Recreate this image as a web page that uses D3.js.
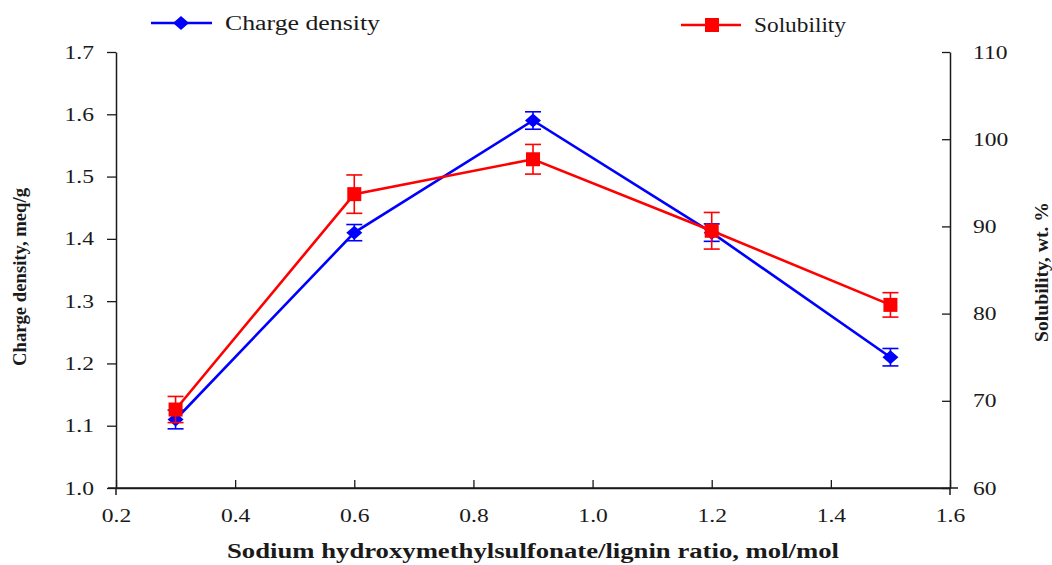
<!DOCTYPE html>
<html><head><meta charset="utf-8">
<script src="https://cdn.jsdelivr.net/npm/d3@7"></script>
<style>body{margin:0;background:#fff}svg{display:block}</style>
</head><body>
<script>
const ratios = [0.3, 0.6, 0.9, 1.2, 1.5];
const chargeDensity = [1.11, 1.41, 1.59, 1.41, 1.21];
const chargeErr = [0.015, 0.013, 0.014, 0.014, 0.014];
const solubility = [69.0, 93.7, 97.7, 89.5, 81.0];
const solubilityErr = [1.5, 2.2, 1.7, 2.1, 1.4];
const xTicks = [0.2, 0.4, 0.6, 0.8, 1.0, 1.2, 1.4, 1.6];
const yLeftTicks = [1.0, 1.1, 1.2, 1.3, 1.4, 1.5, 1.6, 1.7];
const yRightTicks = [60, 70, 80, 90, 100, 110];

const W = 1052, H = 565;
const m = {l:116, r:W-950, t:52, b:H-488};
const svg = d3.select("body").append("svg").attr("width", W).attr("height", H);
const font = "'Liberation Serif', 'Times New Roman', serif";
const ink = "#1a1a1a";

const x = d3.scaleLinear().domain([0.2, 1.6]).range([m.l, W - m.r]);
const yL = d3.scaleLinear().domain([1.0, 1.7]).range([H - m.b, m.t]);
const yR = d3.scaleLinear().domain([60, 110]).range([H - m.b, m.t]);

function stretch(sel, k) {
  sel.each(function() {
    const w = this.getComputedTextLength();
    d3.select(this).attr("textLength", w * k).attr("lengthAdjust", "spacingAndGlyphs");
  });
}

// Axes
const xAxis = d3.axisBottom(x).tickValues(xTicks).tickFormat(d3.format(".1f")).tickSizeInner(-8).tickSizeOuter(0).tickPadding(21);
const gx = svg.append("g").attr("transform", `translate(0,${H - m.b})`).call(xAxis);
const yAxisL = d3.axisLeft(yL).tickValues(yLeftTicks).tickFormat(d3.format(".1f")).tickSizeInner(9).tickSizeOuter(0).tickPadding(13);
const gyl = svg.append("g").attr("transform", `translate(${m.l},0)`).call(yAxisL);
const yAxisR = d3.axisRight(yR).tickValues(yRightTicks).tickSizeInner(-8).tickSizeOuter(0).tickPadding(23);
const gyr = svg.append("g").attr("transform", `translate(${W - m.r},0)`).call(yAxisR);

[gx, gyl, gyr].forEach(g => {
  g.selectAll("text").attr("font-family", font).attr("font-size", 19).attr("fill", ink).call(stretch, 1.24);
  g.selectAll("line").attr("stroke", ink).attr("stroke-width", 1.3);
  g.select(".domain").attr("stroke", ink).attr("stroke-width", 1.5);
});
// extend axis lines slightly beyond corners
svg.append("line").attr("x1", m.l - 8).attr("x2", W - m.r + 8).attr("y1", H - m.b).attr("y2", H - m.b).attr("stroke", ink).attr("stroke-width", 1.5);
svg.append("line").attr("x1", m.l).attr("x2", m.l).attr("y1", H - m.b).attr("y2", H - m.b + 7).attr("stroke", ink).attr("stroke-width", 1.5);
svg.append("line").attr("x1", W - m.r).attr("x2", W - m.r).attr("y1", H - m.b).attr("y2", H - m.b + 7).attr("stroke", ink).attr("stroke-width", 1.5);

// Axis titles
svg.append("text").attr("x", (m.l + W - m.r) / 2).attr("y", 558).attr("text-anchor", "middle")
  .attr("font-family", font).attr("font-weight", "bold").attr("font-size", 20).attr("fill", ink)
  .attr("textLength", 612).attr("lengthAdjust", "spacingAndGlyphs")
  .text("Sodium hydroxymethylsulfonate/lignin ratio, mol/mol");
svg.append("text").attr("transform", "translate(26,277) rotate(-90)").attr("text-anchor", "middle")
  .attr("font-family", font).attr("font-weight", "bold").attr("font-size", 19).attr("fill", ink)
  .attr("textLength", 178).attr("lengthAdjust", "spacingAndGlyphs")
  .text("Charge density, meq/g");
svg.append("text").attr("transform", "translate(1048,272) rotate(-90)").attr("text-anchor", "middle")
  .attr("font-family", font).attr("font-weight", "bold").attr("font-size", 19).attr("fill", ink)
  .attr("textLength", 140).attr("lengthAdjust", "spacingAndGlyphs")
  .text("Solubility, wt. %");

const cd = ratios.map((r, i) => ({x: r, y: chargeDensity[i], e: chargeErr[i]}));
const so = ratios.map((r, i) => ({x: r, y: solubility[i], e: solubilityErr[i]}));

function errBars(data, ys, color) {
  const g = svg.append("g").attr("stroke", color).attr("stroke-width", 1.6).attr("fill", "none");
  data.forEach(d => {
    g.append("line").attr("x1", x(d.x)).attr("x2", x(d.x)).attr("y1", ys(d.y - d.e)).attr("y2", ys(d.y + d.e));
    [d.y - d.e, d.y + d.e].forEach(v => g.append("line").attr("x1", x(d.x) - 8).attr("x2", x(d.x) + 8).attr("y1", ys(v)).attr("y2", ys(v)));
  });
}
const line = ys => d3.line().x(d => x(d.x)).y(d => ys(d.y));
const diamondPath = "M0,-7L8,0L0,7L-8,0Z";

// Blue series
errBars(cd, yL, "#0000ff");
svg.append("path").datum(cd).attr("d", line(yL)).attr("fill", "none").attr("stroke", "#0000ff").attr("stroke-width", 2.6);
svg.selectAll(".dia").data(cd).join("path").attr("transform", d => `translate(${x(d.x)},${yL(d.y)})`).attr("d", diamondPath).attr("fill", "#0000ff");

// Red series
errBars(so, yR, "#ff0000");
svg.append("path").datum(so).attr("d", line(yR)).attr("fill", "none").attr("stroke", "#ff0000").attr("stroke-width", 2.6);
svg.selectAll(".sq").data(so).join("rect").attr("x", d => x(d.x) - 7).attr("y", d => yR(d.y) - 7).attr("width", 14).attr("height", 14).attr("fill", "#ff0000");

// Legend
const lg = svg.append("g");
lg.append("line").attr("x1", 151).attr("x2", 212).attr("y1", 23).attr("y2", 23).attr("stroke", "#0000ff").attr("stroke-width", 2.6);
lg.append("path").attr("transform", "translate(181,23)").attr("d", diamondPath).attr("fill", "#0000ff");
lg.append("text").attr("x", 225).attr("y", 30).attr("font-family", font).attr("font-size", 20).attr("fill", ink)
  .attr("textLength", 155).attr("lengthAdjust", "spacingAndGlyphs").text("Charge density");
lg.append("line").attr("x1", 681).attr("x2", 741).attr("y1", 25).attr("y2", 25).attr("stroke", "#ff0000").attr("stroke-width", 2.6);
lg.append("rect").attr("x", 705).attr("y", 18).attr("width", 14).attr("height", 14).attr("fill", "#ff0000");
lg.append("text").attr("x", 754).attr("y", 32).attr("font-family", font).attr("font-size", 20).attr("fill", ink)
  .attr("textLength", 92).attr("lengthAdjust", "spacingAndGlyphs").text("Solubility");
</script>
</body></html>
